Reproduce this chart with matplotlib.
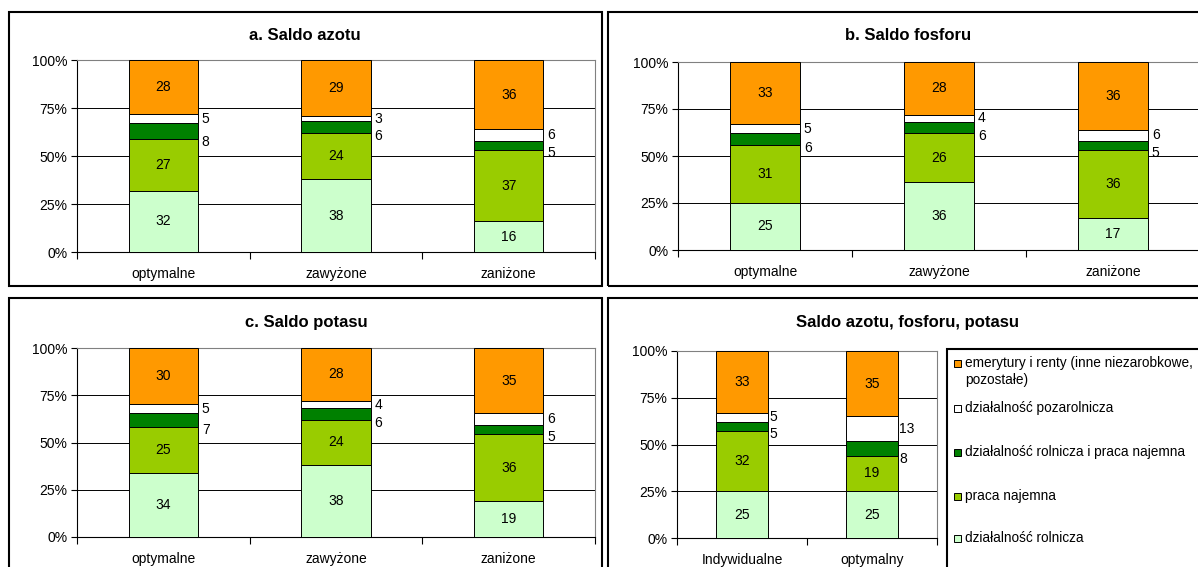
import numpy as np
import matplotlib
matplotlib.use('Agg')
import matplotlib.pyplot as plt
from matplotlib.patches import Rectangle
from matplotlib.ticker import FixedLocator

plt.rcParams['font.family'] = ['Liberation Sans', 'DejaVu Sans']

# series, bottom to top of each bar
series_names = ['działalność rolnicza', 'praca najemna',
                'działalność rolnicza i praca najemna', 'działalność pozarolnicza',
                'emerytury i renty (inne niezarobkowe,\npozostałe)']
series_colors = ['#CCFFCC', '#99CC00', '#008000', '#FFFFFF', '#FF9900']

categories_abc = ['optymalne', 'zawyżone', 'zaniżone']
categories_d = ['Indywidualne', 'optymalny']

# rows follow series_names, columns follow the categories
saldo_azotu = [[32, 38, 16],
               [27, 24, 37],
               [8, 6, 5],
               [5, 3, 6],
               [28, 29, 36]]
saldo_fosforu = [[25, 36, 17],
                 [31, 26, 36],
                 [6, 6, 5],
                 [5, 4, 6],
                 [33, 28, 36]]
saldo_potasu = [[34, 38, 19],
                [25, 24, 36],
                [7, 6, 5],
                [5, 4, 6],
                [30, 28, 35]]
saldo_npk = [[25, 25],
             [32, 19],
             [5, 8],
             [5, 13],
             [33, 35]]

W, H = 1198, 567


def px_rect(l, t, r, b):
    return [l / W, 1 - b / H, (r - l) / W, (b - t) / H]


def frame(fig, l, t, r, b):
    fig.add_artist(Rectangle((l / W, 1 - b / H), (r - l) / W, (b - t) / H,
                             transform=fig.transFigure, fill=False,
                             edgecolor='black', linewidth=1.5, clip_on=False))


def draw_panel(fig, rect, title, title_xy, cats, values, gap=4):
    ax = fig.add_axes(px_rect(*rect))
    vals = np.array(values, dtype=float)
    shares = vals / vals.sum(axis=0) * 100
    x = np.arange(len(cats))
    bottom = np.zeros(len(cats))
    for i in range(len(vals)):
        ax.bar(x, shares[i], 0.4, bottom=bottom, color=series_colors[i],
               edgecolor='black', linewidth=0.7, zorder=3)
        for j in range(len(cats)):
            lab = '%d' % vals[i, j]
            if i == 3:
                ax.annotate(lab, (x[j] + 0.2, bottom[j] + shares[i, j] / 2),
                            xytext=(gap, 0), textcoords='offset pixels',
                            ha='left', va='center', fontsize=10)
            elif i == 2:
                ax.annotate(lab, (x[j] + 0.2, bottom[j]),
                            xytext=(gap, -3), textcoords='offset pixels',
                            ha='left', va='center', fontsize=10)
            else:
                ax.text(x[j], bottom[j] + shares[i, j] / 2, lab,
                        ha='center', va='center', fontsize=10, zorder=4)
        bottom += shares[i]

    ax.set_xlim(-0.5, len(cats) - 0.5)
    ax.set_ylim(0, 100)
    ax.set_yticks([0, 25, 50, 75, 100])
    ax.set_yticklabels(['0%', '25%', '50%', '75%', '100%'])
    ax.xaxis.set_major_locator(FixedLocator(np.arange(len(cats) + 1) - 0.5))
    ax.xaxis.set_major_formatter(plt.NullFormatter())
    ax.xaxis.set_minor_locator(FixedLocator(x))
    ax.set_xticklabels(cats, minor=True)
    ax.tick_params(axis='x', which='major', length=5, width=0.8, direction='out')
    ax.tick_params(axis='x', which='minor', length=0, pad=11, labelsize=10)
    ax.tick_params(axis='y', length=4, width=0.8, direction='out', pad=3, labelsize=10)
    ax.set_axisbelow(True)
    ax.yaxis.grid(True, color='black', linewidth=0.7)
    for s in ['left', 'bottom']:
        ax.spines[s].set_color('black')
        ax.spines[s].set_linewidth(0.8)
    for s in ['top', 'right']:
        ax.spines[s].set_color('#808080')
        ax.spines[s].set_linewidth(0.8)
    fig.text(title_xy[0] / W, 1 - title_xy[1] / H, title, ha='center', va='center',
             fontsize=12, fontweight='bold')
    return ax


def legend_box(fig):
    frame(fig, 947, 349, 1210, 580)
    rows = [363, 408, 452, 496, 538]
    for k, i in enumerate(range(len(series_names) - 1, -1, -1)):
        y = rows[k]
        fig.add_artist(Rectangle((954 / W, 1 - (y + 3.5) / H), 7 / W, 7 / H,
                                 transform=fig.transFigure, facecolor=series_colors[i],
                                 edgecolor='black', linewidth=0.7))
        fig.text(965 / W, 1 - (y - 7) / H, series_names[i], ha='left', va='top',
                 fontsize=9.8, linespacing=1.3)


if __name__ == '__main__':
    fig = plt.figure(figsize=(W / 100, H / 100), dpi=100)

    frame(fig, 9, 12, 602, 286)
    frame(fig, 608, 12, 1210, 286)
    frame(fig, 9, 298, 602, 580)
    frame(fig, 608, 298, 1210, 580)

    draw_panel(fig, (77, 60, 595, 252), 'a. Saldo azotu', (305, 36),
               categories_abc, saldo_azotu)
    draw_panel(fig, (678, 62, 1200, 250), 'b. Saldo fosforu', (908, 36),
               categories_abc, saldo_fosforu)
    draw_panel(fig, (77, 348, 595, 537), 'c. Saldo potasu', (306, 323),
               categories_abc, saldo_potasu)
    draw_panel(fig, (677, 351, 937, 538), 'Saldo azotu, fosforu, potasu', (907, 323),
               categories_d, saldo_npk, gap=1)
    legend_box(fig)

    fig.savefig('out.png', dpi=100)
